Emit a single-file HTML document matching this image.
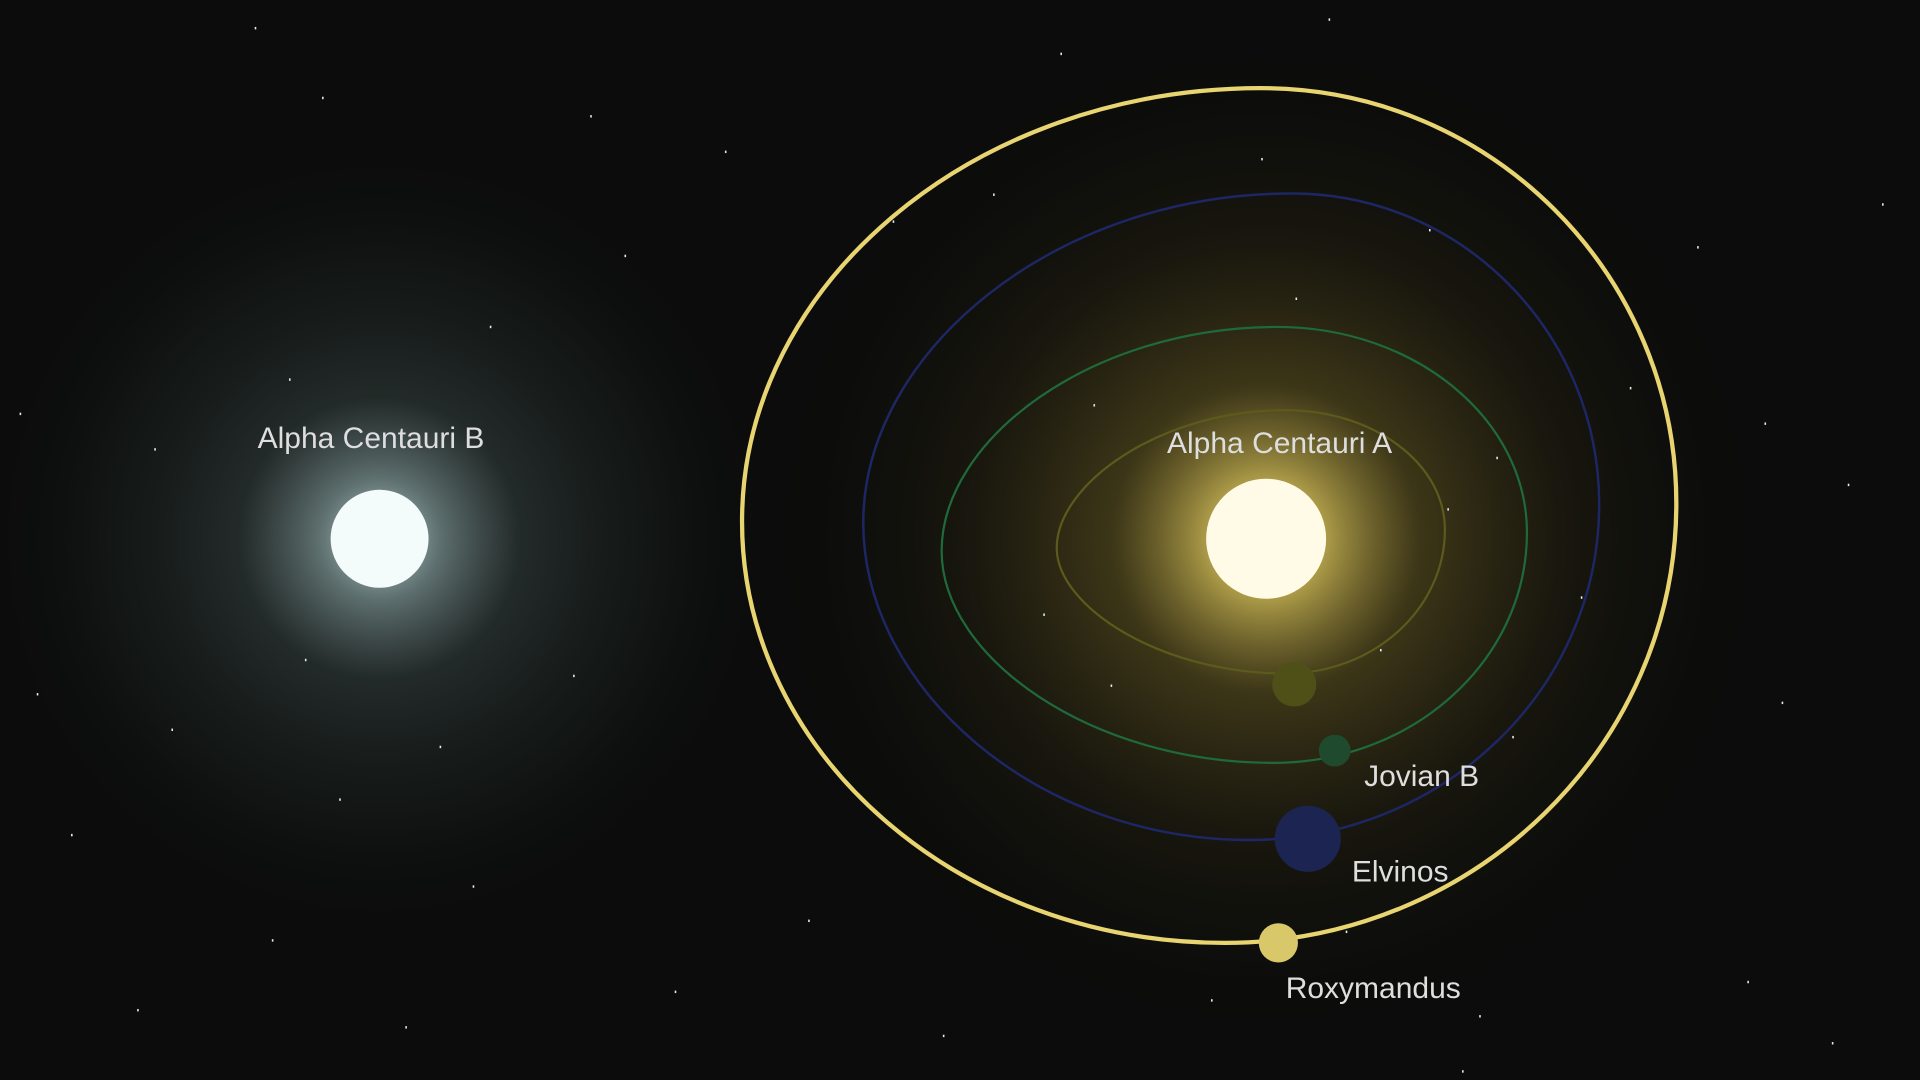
<!DOCTYPE html>
<html><head><meta charset="utf-8"><style>
html,body{margin:0;padding:0;background:#0b0c0b;overflow:hidden}
svg{display:block}
text{font-family:"Liberation Sans",sans-serif;fill:#dedede;font-size:24.5px}
</style></head><body>
<svg id="chart" width="1920" height="1080" viewBox="0 0 1568 882" xmlns="http://www.w3.org/2000/svg">
<defs>
<radialGradient id="glowA" cx="1034" cy="440" r="420" gradientUnits="userSpaceOnUse">
<stop offset="0" stop-color="#fff6c0" stop-opacity="0.95"/>
<stop offset="0.12" stop-color="#d0bb55" stop-opacity="0.8"/>
<stop offset="0.3" stop-color="#6e6024" stop-opacity="0.5"/>
<stop offset="0.6" stop-color="#2e2812" stop-opacity="0.35"/>
<stop offset="1" stop-color="#0b0c0b" stop-opacity="0"/>
</radialGradient>
<radialGradient id="glowB" cx="310" cy="440" r="330" gradientUnits="userSpaceOnUse">
<stop offset="0" stop-color="#d8f0f0" stop-opacity="0.9"/>
<stop offset="0.15" stop-color="#8aa5a5" stop-opacity="0.65"/>
<stop offset="0.35" stop-color="#3a4846" stop-opacity="0.5"/>
<stop offset="0.7" stop-color="#1c2423" stop-opacity="0.35"/>
<stop offset="1" stop-color="#0b0c0b" stop-opacity="0"/>
</radialGradient>
</defs>
<rect width="1568" height="882" fill="#0b0c0b"/>
<circle cx="310" cy="440" r="330" fill="url(#glowB)"/>
<circle cx="1034" cy="440" r="420" fill="url(#glowA)"/>
<g id="stars"></g>
<g id="orbits"></g>
<circle cx="310" cy="440" r="40" fill="#f4fbfb"/>
<circle cx="1034" cy="440" r="49" fill="#fffbe6"/>
<text x="303" y="366" text-anchor="middle">Alpha Centauri B</text>
<text x="1045" y="370" text-anchor="middle">Alpha Centauri A</text>
<g id="planets"></g>
</svg>
<script>
const orbitNames = ["inner", "jovian-b", "elvinos", "roxymandus"];
const orbitLeft = [863, 769, 705, 606];
const orbitTop = [335, 267, 158, 72];
const orbitRight = [1180, 1247, 1306, 1369];
const orbitBottom = [550, 623, 686, 770];
const orbitTopX = [1050, 1043, 1055, 1030];
const orbitBottomX = [1050, 1040, 1020, 1000];
const orbitLeftK = [0.46, 0.5, 0.52, 0.55];
const orbitColors = ["#5c5a1c", "#1f6a3a", "#1e2766", "#e8d470"];
const orbitWidths = [1.8, 1.8, 2, 3.5];
const planetNames = ["", "Jovian B", "Elvinos", "Roxymandus"];
const planetX = [1057, 1090, 1068, 1044];
const planetY = [559, 613, 685, 770];
const planetR = [18, 13, 27, 16];
const planetColors = ["#4f5018", "#1f4a2e", "#1c2452", "#d9c86a"];
const labelX = [0, 1114, 1104, 1050];
const labelY = [0, 642, 720, 815];
const starX = [208,263,482,592,866,1085,1030,1167,1386,1537,510,400,236,16,126,1331,1441,1509,1222,1182,1291,1455,1427,1496,1208,1194,30,140,249,359,468,277,58,386,222,112,331,551,660,770,989,1099,893,852,907,1058,1127,1235,729,811];
const starY = [22,79,94,123,43,15,129,187,201,166,208,266,309,337,366,316,345,395,373,415,487,573,801,851,829,874,566,595,538,609,551,652,681,723,767,824,838,809,751,845,816,760,330,501,559,243,530,601,180,158];
const NS = "http://www.w3.org/2000/svg";
const sg = document.getElementById("stars");
for (let i = 0; i < starX.length; i++) {
  const s = document.createElementNS(NS, "rect");
  s.setAttribute("x", starX[i]); s.setAttribute("y", starY[i]);
  s.setAttribute("width", 1.3); s.setAttribute("height", 2);
  s.setAttribute("fill", "#dfeef0");
  
  
  sg.appendChild(s);
}
const og = document.getElementById("orbits");
const K = 0.552;
for (let i = 0; i < orbitNames.length; i++) {
  const L = orbitLeft[i], T = orbitTop[i], R = orbitRight[i], B = orbitBottom[i];
  const tx = orbitTopX[i], bx = orbitBottomX[i], kl = orbitLeftK[i];
  const cyL = (T + B) / 2 + 5, cyR = (T + B) / 2 - 10;
  const d = `M${L},${cyL} C${L},${cyL - (cyL-T)*kl} ${tx - (tx-L)*K},${T} ${tx},${T} ` +
    `C${tx + (R-tx)*K},${T} ${R},${cyR - (cyR-T)*K} ${R},${cyR} ` +
    `C${R},${cyR + (B-cyR)*K} ${bx + (R-bx)*K},${B} ${bx},${B} ` +
    `C${bx - (bx-L)*K},${B} ${L},${cyL + (B-cyL)*kl} ${L},${cyL} Z`;
  const p = document.createElementNS(NS, "path");
  p.setAttribute("d", d); p.setAttribute("fill", "none");
  p.setAttribute("stroke", orbitColors[i]); p.setAttribute("stroke-width", orbitWidths[i]);
  
  
  og.appendChild(p);
}
const pg = document.getElementById("planets");
for (let i = 0; i < planetX.length; i++) {
  const c = document.createElementNS(NS, "circle");
  c.setAttribute("cx", planetX[i]); c.setAttribute("cy", planetY[i]);
  c.setAttribute("r", planetR[i]); c.setAttribute("fill", planetColors[i]);
  
  
  pg.appendChild(c);
  if (planetNames[i]) {
    const t = document.createElementNS(NS, "text");
    t.setAttribute("x", labelX[i]); t.setAttribute("y", labelY[i]);
    t.textContent = planetNames[i];
    
    
    pg.appendChild(t);
  }
}
</script>
</body></html>
